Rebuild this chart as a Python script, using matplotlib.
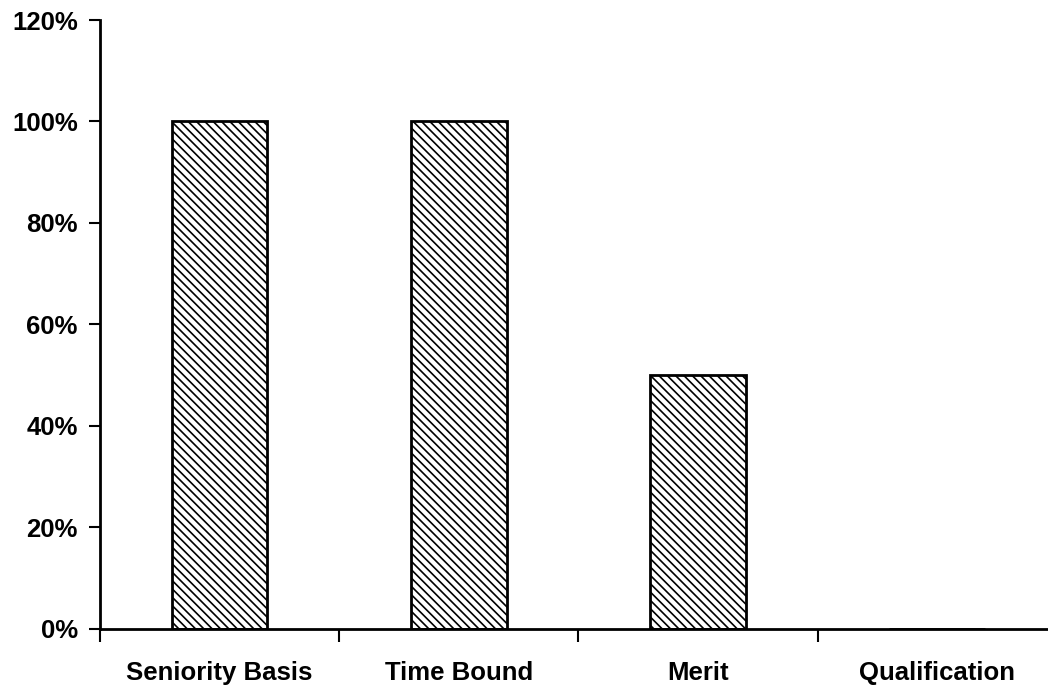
import matplotlib.pyplot as plt
from matplotlib.ticker import FuncFormatter

categories = ['Seniority Basis', 'Time Bound', 'Merit', 'Qualification']
shares = [100, 100, 50, 0]
y_ticks = [0, 20, 40, 60, 80, 100, 120]

plt.rcParams['font.family'] = ['Liberation Sans', 'DejaVu Sans']
plt.rcParams['font.weight'] = 'bold'
plt.rcParams['hatch.linewidth'] = 1.2

fig = plt.figure(figsize=(10.48, 6.85), dpi=100)
ax = fig.add_axes([0.0954, 0.0818, 0.913, 0.889])

x = list(range(len(categories)))
ax.bar(x, shares, width=0.4, color='white', edgecolor='black',
       linewidth=2.0, hatch='\\\\\\\\', zorder=2)

ax.set_xlim(-0.5, len(categories) - 0.5)
ax.set_ylim(0, 120)
ax.set_yticks(y_ticks)
ax.yaxis.set_major_formatter(FuncFormatter(lambda v, p: f'{v:.0f}%'))

# category labels centred, tick marks on the boundaries between them
ax.set_xticks(x)
ax.set_xticklabels(categories)
ax.set_xticks([i - 0.5 for i in x], minor=True)
ax.tick_params(axis='x', which='major', length=0, pad=23, labelsize=18.5)
ax.tick_params(axis='x', which='minor', length=9, width=1.5, direction='out')
ax.tick_params(axis='y', length=8, width=1.5, direction='out', labelsize=18.5, pad=8)

for side in ['top', 'right']:
    ax.spines[side].set_visible(False)
for side in ['left', 'bottom']:
    ax.spines[side].set_linewidth(2.0)

fig.savefig('out.png', dpi=100)
